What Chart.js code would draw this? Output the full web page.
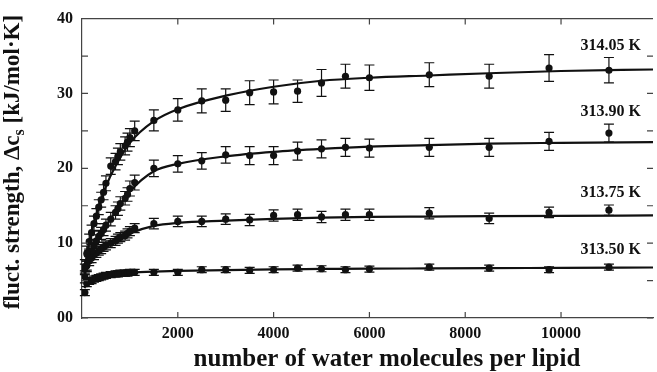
<!DOCTYPE html>
<html><head><meta charset="utf-8">
<script src="https://cdn.jsdelivr.net/npm/chart.js@4/dist/chart.umd.min.js"></script>
<style>html,body{margin:0;padding:0;background:#fff;overflow:hidden}canvas{display:block}</style>
</head><body>
<canvas id="c" width="657" height="372"></canvas>
<script>
// ---- data ----
const seriesNames = ['314.05 K', '313.90 K', '313.75 K', '313.50 K'];
const waterX = [60,100,150,200,250,300,350,400,450,500,600,700,750,800,900,950,1000,1100,1500,2000,2500,3000,3500,4000,4500,5000,5500,6000,7250,8500,9750,11000];
const y31405 = [6.8,8.6,10.2,11.4,12.6,13.6,14.8,15.8,16.8,18.0,20.3,20.9,21.6,22.2,23.0,23.5,24.1,25.0,26.4,27.8,29.0,29.1,30.1,30.2,30.3,31.4,32.3,32.1,32.5,32.3,33.4,33.1];
const y31390 = [5.5,7.0,8.2,9.0,9.7,10.3,10.9,11.3,11.8,12.4,13.2,14.1,14.6,15.3,16.0,16.5,17.3,18.1,20.0,20.6,21.0,21.8,21.7,21.7,22.3,22.6,22.8,22.7,22.8,22.8,23.6,24.7];
const y31375 = [6.6,7.0,7.6,8.0,8.4,8.7,9.0,9.2,9.5,9.7,10.0,10.3,10.6,10.8,11.0,11.3,11.6,12.0,12.6,12.9,12.9,13.2,13.1,13.7,13.8,13.5,13.8,13.8,14.0,13.3,14.1,14.4];
const y31350 = [3.4,4.6,4.9,5.0,5.2,5.3,5.4,5.5,5.6,5.7,5.8,5.9,5.9,6.0,6.0,6.0,6.1,6.1,6.1,6.1,6.45,6.45,6.36,6.45,6.66,6.58,6.45,6.53,6.79,6.66,6.45,6.79];
const err31405 = [1.0,1.0,1.0,1.0,1.0,1.0,1.0,1.0,1.0,1.0,1.1,1.1,1.1,1.1,1.2,1.2,1.2,1.3,1.4,1.5,1.6,1.5,1.6,1.6,1.5,1.8,1.6,1.7,1.6,1.6,1.8,1.7];
const err31390 = [0.8,0.8,0.8,0.8,0.8,0.8,0.8,0.8,0.8,0.8,0.9,0.9,0.9,0.9,0.9,0.9,1.0,1.0,1.1,1.1,1.1,1.1,1.2,1.2,1.2,1.2,1.2,1.2,1.2,1.2,1.2,1.2];
const err31375 = [0.6,0.6,0.6,0.6,0.6,0.6,0.6,0.6,0.6,0.6,0.6,0.6,0.6,0.6,0.6,0.6,0.6,0.6,0.7,0.7,0.7,0.7,0.75,0.75,0.75,0.75,0.75,0.75,0.75,0.7,0.7,0.7];
const err31350 = [0.4,0.4,0.4,0.4,0.4,0.4,0.4,0.4,0.4,0.4,0.4,0.4,0.4,0.4,0.4,0.4,0.4,0.4,0.4,0.4,0.4,0.4,0.4,0.4,0.4,0.4,0.4,0.4,0.4,0.4,0.4,0.4];
// fitted curves
const fitX = [50,100,200,300,400,500,700,1000,1500,2000,3000,4000,5000,6000,7250,8500,10000,11920];
const fit31405 = [6.0,8.5,11.5,13.8,15.8,17.6,20.3,23.4,26.3,27.9,29.7,30.9,31.7,32.1,32.4,32.7,33.0,33.2];
const fit31390 = [5.5,6.8,8.8,10.2,11.3,12.3,14.2,16.9,19.6,20.6,21.6,22.2,22.6,22.9,23.1,23.3,23.4,23.5];
const fit31375 = [6.3,7.0,8.0,8.7,9.2,9.6,10.3,11.3,12.3,12.7,13.0,13.25,13.4,13.5,13.55,13.6,13.65,13.7];
const fit31350 = [4.0,4.5,5.0,5.3,5.5,5.7,5.9,6.05,6.2,6.3,6.4,6.5,6.55,6.6,6.62,6.65,6.7,6.75];
// series label anchors (data units)
const labelX = [11040, 11040, 11040, 11040];
const labelY = [36.4, 27.5, 16.7, 9.1];
const xTickValues = [2000, 4000, 6000, 8000, 10000];
const yTickValues = [0, 5, 10, 15, 20, 25, 30, 35, 40];
const yTickLabels = {0: '00', 10: '10', 20: '20', 30: '30', 40: '40'};
const xRange = [0, 11920];
const yRange = [0, 40];
const xTitle = 'number of water molecules per lipid';
const yTitleParts = ['fluct. strength, \u0394c', 's', ' [kJ/mol\u00B7K]'];

const measured = [
  {vals: y31405, err: err31405, fit: fit31405},
  {vals: y31390, err: err31390, fit: fit31390},
  {vals: y31375, err: err31375, fit: fit31375},
  {vals: y31350, err: err31350, fit: fit31350}
];

const INK = '#111';
const SERIF = '"Liberation Serif", "Times New Roman", serif';

const datasets = [];
measured.forEach((s, k) => {
  datasets.push({
    label: seriesNames[k] + ' fit',
    data: fitX.map((x, i) => ({x, y: s.fit[i]})),
    showLine: true, pointRadius: 0, borderColor: INK, borderWidth: 2.2,
    cubicInterpolationMode: 'monotone', fill: false, order: 2
  });
  datasets.push({
    label: seriesNames[k],
    data: waterX.map((x, i) => ({x, y: s.vals[i]})),
    showLine: false, pointRadius: 3.6, pointBackgroundColor: INK, pointBorderColor: INK,
    pointBorderWidth: 0, order: 1
  });
});

const errPlugin = {
  id: 'errbars',
  beforeDatasetsDraw(chart) {
    const {ctx, scales: {x, y}} = chart;
    ctx.save();
    ctx.strokeStyle = INK; ctx.lineWidth = 1.2;
    measured.forEach(s => {
      waterX.forEach((xv, i) => {
        const px = x.getPixelForValue(xv);
        const y1 = y.getPixelForValue(s.vals[i] - s.err[i]);
        const y2 = y.getPixelForValue(s.vals[i] + s.err[i]);
        ctx.beginPath();
        ctx.moveTo(px, y1); ctx.lineTo(px, y2);
        ctx.moveTo(px - 5, y1); ctx.lineTo(px + 5, y1);
        ctx.moveTo(px - 5, y2); ctx.lineTo(px + 5, y2);
        ctx.stroke();
      });
    });
    ctx.restore();
  }
};

const framePlugin = {
  id: 'frame',
  afterDraw(chart) {
    const {ctx, chartArea: a, scales: {x, y}} = chart;
    ctx.save();
    ctx.strokeStyle = '#444'; ctx.lineWidth = 1.2;
    ctx.beginPath();
    ctx.moveTo(a.left, a.top); ctx.lineTo(a.right, a.top);
    x.ticks.forEach(t => {
      const px = x.getPixelForValue(t.value);
      ctx.moveTo(px, a.bottom); ctx.lineTo(px, a.bottom - 6);
      ctx.moveTo(px, a.top); ctx.lineTo(px, a.top + 6);
    });
    y.ticks.forEach(t => {
      const py = y.getPixelForValue(t.value);
      ctx.moveTo(a.left, py); ctx.lineTo(a.left + 6, py);
      ctx.moveTo(a.right, py); ctx.lineTo(a.right - 6, py);
    });
    ctx.stroke();
    ctx.fillStyle = INK;
    // series labels
    ctx.font = 'bold 16px ' + SERIF;
    ctx.textAlign = 'center'; ctx.textBaseline = 'middle';
    seriesNames.forEach((n, k) => {
      ctx.fillText(n, x.getPixelForValue(labelX[k]), y.getPixelForValue(labelY[k]));
    });
    // x title
    ctx.font = 'bold 25px ' + SERIF;
    ctx.textBaseline = 'alphabetic';
    ctx.fillText(xTitle, 387, 366);
    // y title with subscript
    const big = 'bold 23px ' + SERIF, small = 'bold 16px ' + SERIF;
    ctx.font = big; const w0 = ctx.measureText(yTitleParts[0]).width;
    const w2 = ctx.measureText(yTitleParts[2]).width;
    ctx.font = small; const w1 = ctx.measureText(yTitleParts[1]).width;
    const total = w0 + w1 + w2;
    ctx.translate(19, 162);
    ctx.rotate(-Math.PI / 2);
    ctx.textAlign = 'left';
    let cx = -total / 2;
    ctx.font = big; ctx.fillText(yTitleParts[0], cx, 0); cx += w0;
    ctx.font = small; ctx.fillText(yTitleParts[1], cx, 5); cx += w1;
    ctx.font = big; ctx.fillText(yTitleParts[2], cx, 0);
    ctx.restore();
  }
};

new Chart(document.getElementById('c'), {
  type: 'scatter',
  data: {datasets},
  options: {
    responsive: false, animation: false, devicePixelRatio: 1,
    layout: {padding: {left: 0, top: 16, right: 0, bottom: 0}},
    plugins: {legend: {display: false}, tooltip: {enabled: false}},
    scales: {
      x: {
        type: 'linear', min: xRange[0], max: xRange[1],
        grid: {display: false, drawTicks: false},
        border: {display: true, color: '#444', width: 1.2},
        afterBuildTicks: s => { s.ticks = xTickValues.map(v => ({value: v})); },
        ticks: {padding: 6, color: INK, autoSkip: false, maxRotation: 0,
          font: {family: SERIF, size: 16, weight: 'bold'},
          callback: v => String(v)},
        afterFit: s => { s.height = 54; }
      },
      y: {
        type: 'linear', min: yRange[0], max: yRange[1],
        grid: {display: false, drawTicks: false},
        border: {display: true, color: '#444', width: 1.2},
        afterBuildTicks: s => { s.ticks = yTickValues.map(v => ({value: v})); },
        ticks: {padding: 9, color: INK, autoSkip: false,
          font: {family: SERIF, size: 16, weight: 'bold'},
          callback: v => (yTickLabels[v] || '')},
        afterFit: s => { s.width = 82; }
      }
    }
  },
  plugins: [errPlugin, framePlugin]
});
</script>
</body></html>
